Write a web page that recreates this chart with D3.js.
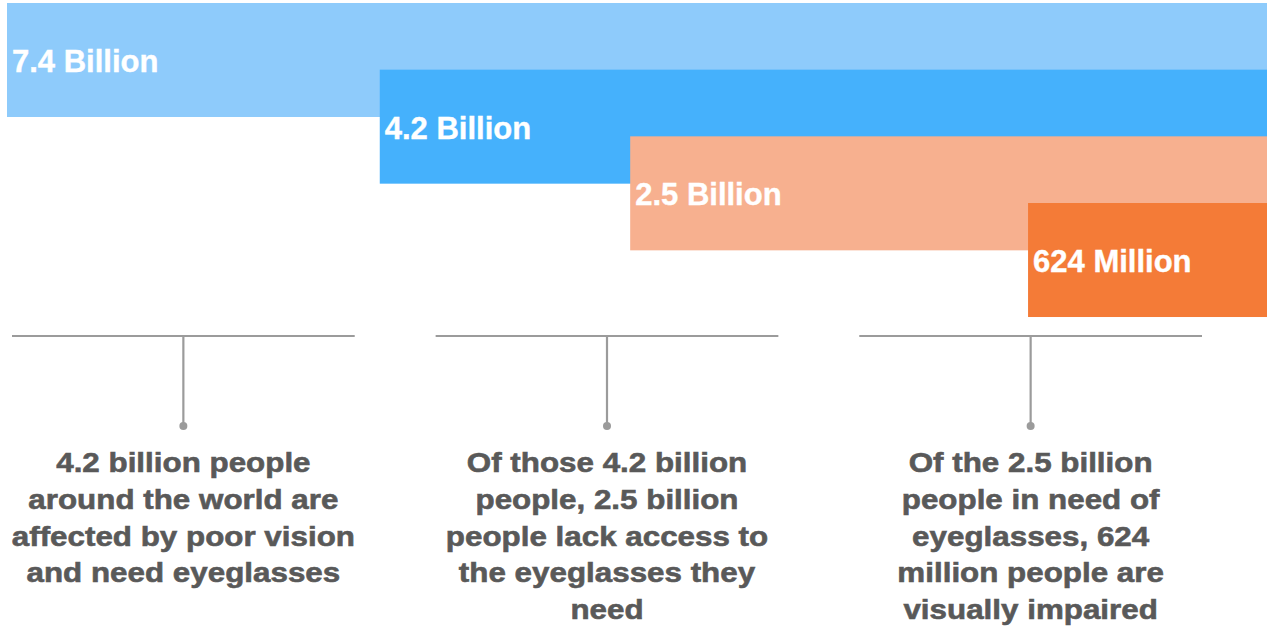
<!DOCTYPE html>
<html>
<head>
<meta charset="utf-8">
<script src="https://cdn.jsdelivr.net/npm/d3@7"></script>
<style>
  html, body { margin: 0; padding: 0; background: #ffffff; }
  svg { display: block; }
</style>
</head>
<body>
<svg id="chart" width="1267" height="630"></svg>
<script>
// ---- data ----
const categories = ["Total", "Poor vision", "Lack access", "Visually impaired"];
const values = [7.4, 4.2, 2.5, 0.624];             // billions of people
const valueLabels = ["7.4 Billion", "4.2 Billion", "2.5 Billion", "624 Million"];
const barColors = ["#8ecbfb", "#45b1fc", "#f7b08f", "#f47b37"];
const notes = [
  ["4.2 billion people", "around the world are", "affected by poor vision", "and need eyeglasses"],
  ["Of those 4.2 billion", "people, 2.5 billion", "people lack access to", "the eyeglasses they", "need"],
  ["Of the 2.5 billion", "people in need of", "eyeglasses, 624", "million people are", "visually impaired"]
];

// ---- layout ----
const W = 1267, H = 630;
const svg = d3.select("#chart");

// bar left edge: a power scale (bars all end at the right edge)
const x = d3.scalePow().exponent(0.57).domain([0, 7.4]).range([1358, 7]);
const y = d3.scaleBand().domain(categories).range([3, 3 + 4 * 66.67]).paddingInner(0).paddingOuter(0);
const barH = 114;
const xRight = W;

const bars = svg.append("g");
categories.forEach((c, i) => {
  bars.append("rect")
    .attr("x", x(values[i]))
    .attr("y", y(c))
    .attr("width", xRight - x(values[i]))
    .attr("height", barH)
    .attr("fill", barColors[i]);
  bars.append("text")
    .attr("x", x(values[i]) + 5)
    .attr("y", y(c) + 69)
    .attr("fill", "#ffffff")
    .attr("stroke", "#ffffff")
    .attr("stroke-width", 0.4)
    .attr("font-family", "'Liberation Sans', Arial, Helvetica, sans-serif")
    .attr("font-weight", "bold")
    .attr("font-size", 31)
    .text(valueLabels[i]);
});

// annotation columns
const cols = d3.scaleBand().domain(d3.range(notes.length)).range([12, 1202]).paddingInner(0.191).paddingOuter(0);
const lineY = 336, dotY = 426;
const ann = svg.append("g");
notes.forEach((lines, i) => {
  const x0 = cols(i), cx = x0 + cols.bandwidth() / 2;
  ann.append("line")
    .attr("x1", x0).attr("x2", x0 + cols.bandwidth())
    .attr("y1", lineY).attr("y2", lineY)
    .attr("stroke", "#9b9b9b").attr("stroke-width", 2.2);
  ann.append("line")
    .attr("x1", cx).attr("x2", cx)
    .attr("y1", lineY).attr("y2", dotY)
    .attr("stroke", "#9b9b9b").attr("stroke-width", 2.2);
  ann.append("circle")
    .attr("cx", cx).attr("cy", dotY).attr("r", 4)
    .attr("fill", "#9b9b9b");
  lines.forEach((t, j) => {
    ann.append("text")
      .attr("transform", `translate(${cx},${472 + j * 36.8}) scale(1.12,1)`)
      .attr("text-anchor", "middle")
      .attr("fill", "#595959")
      .attr("stroke", "#595959")
      .attr("stroke-width", 0.6)
      .attr("font-family", "'Liberation Sans', Arial, Helvetica, sans-serif")
      .attr("font-weight", "bold")
      .attr("font-size", 28)
      .text(t);
  });
});
</script>
</body>
</html>
